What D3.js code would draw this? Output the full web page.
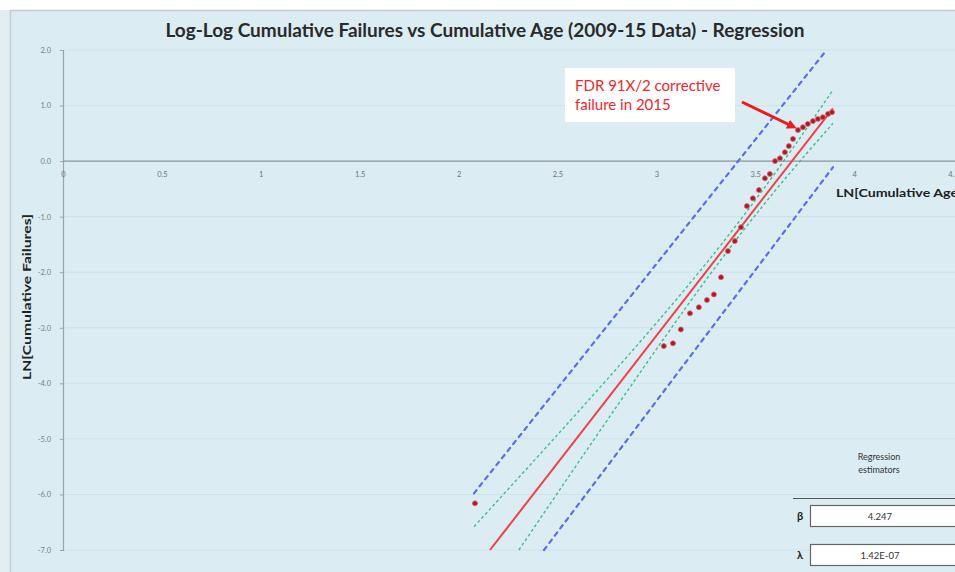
<!DOCTYPE html>
<html>
<head>
<meta charset="utf-8">
<script src="https://cdn.jsdelivr.net/npm/d3@7"></script>
<style>
  html, body { margin: 0; padding: 0; background: #ffffff; }
  svg { display: block; }
</style>
</head>
<body>
<svg id="chart" width="955" height="572"></svg>
<script>
// LN of cumulative age and LN of cumulative failures (observations)
const lnAge = [2.083, 3.038, 3.084, 3.124, 3.170, 3.215, 3.256, 3.291, 3.327, 3.362,
               3.397, 3.428, 3.458, 3.488, 3.519, 3.549, 3.574, 3.600, 3.625, 3.650,
               3.670, 3.691, 3.716, 3.741, 3.766, 3.792, 3.817, 3.842, 3.868, 3.888];
const lnFail = [-6.16, -3.33, -3.28, -3.03, -2.74, -2.63, -2.50, -2.40, -2.09, -1.62,
                -1.44, -1.19, -0.81, -0.67, -0.52, -0.31, -0.23, 0.00, 0.05, 0.16,
                0.27, 0.40, 0.56, 0.61, 0.67, 0.72, 0.76, 0.79, 0.85, 0.88];

// Fitted line and its bands, as [lnAge, lnFail] points
const fitLine   = [[2.159, -7.00], [3.893, 0.95]];
const confUpper = [[2.078, -6.58], [3.195, -2.09], [3.893, 1.28]];
const confLower = [[2.305, -7.00], [3.261, -2.09], [3.893, 0.68]];
const predUpper = [[2.078, -5.98], [3.852, 1.96]];
const predLower = [[2.432, -7.00], [3.893, -0.11]];

// Axis ticks
const xTicks = [0, 0.5, 1, 1.5, 2, 2.5, 3, 3.5, 4, 4.5];
const xTickLabels = ["0", "0.5", "1", "1.5", "2", "2.5", "3", "3.5", "4", "4.5"];
const yTicks = [2, 1, 0, -1, -2, -3, -4, -5, -6, -7];
const yTickLabels = ["2.0", "1.0", "0.0", "-1.0", "-2.0", "-3.0", "-4.0", "-5.0", "-6.0", "-7.0"];

// Regression estimators
const estimatorNames = ["β", "λ"];
const estimatorValues = ["4.247", "1.42E-07"];

// Highlighted observation
const calloutLines = ["FDR 91X/2 corrective", "failure in 2015"];
const calloutPoint = [3.716, 0.56];

const svg = d3.select("#chart");
const W = 955, H = 572;

// Chart area background
svg.append("rect").attr("x", 0).attr("y", 10).attr("width", 10).attr("height", H)
  .attr("fill", "#e3eef2");
svg.append("rect").attr("x", 10.5).attr("y", 10.5).attr("width", W).attr("height", H)
  .attr("fill", "#dbedf3").attr("stroke", "#c4cdd1").attr("stroke-width", 1.5);

const x = d3.scaleLinear().domain([0, 4.5]).range([63, 953]);
const y = d3.scaleLinear().domain([-7, 2]).range([550, 50]);

// Horizontal gridlines
svg.append("g").selectAll("line").data(yTicks).join("line")
  .attr("x1", x(0)).attr("x2", W)
  .attr("y1", d => y(d)).attr("y2", d => y(d))
  .attr("stroke", "#cde2ea").attr("stroke-width", 1);

// Y axis
const yAxis = d3.axisLeft(y).tickValues(yTicks)
  .tickFormat((d, i) => yTickLabels[i]).tickSize(3).tickPadding(9);
const gy = svg.append("g").attr("transform", `translate(${x(0)},0)`).call(yAxis);
gy.select(".domain").attr("stroke", "#9aa3a8").attr("stroke-width", 1.2);
gy.selectAll(".tick line").attr("stroke", "#9aa3a8");
gy.selectAll("text").attr("font-family", "Lato, sans-serif").attr("font-size", 7.5)
  .attr("fill", "#7a7f82");

// X axis crossing at zero
const xAxis = d3.axisBottom(x).tickValues(xTicks)
  .tickFormat((d, i) => xTickLabels[i]).tickSize(0).tickPadding(11);
const gx = svg.append("g").attr("transform", `translate(0,${y(0)})`).call(xAxis);
gx.select(".domain").remove();
gx.append("line").attr("x1", x(0)).attr("x2", W).attr("y1", 0).attr("y2", 0)
  .attr("stroke", "#8e979c").attr("stroke-width", 1.3);
gx.selectAll("text").attr("font-family", "Lato, sans-serif").attr("font-size", 7.5)
  .attr("fill", "#6e7376");

// Axis titles
svg.append("text").attr("x", 836).attr("y", 197)
  .attr("font-family", "Lato, sans-serif").attr("font-weight", "bold").attr("font-size", 11.5)
  .attr("textLength", 126).attr("lengthAdjust", "spacingAndGlyphs")
  .attr("fill", "#222").text("LN[Cumulative Age]");
svg.append("text").attr("transform", "translate(31,297) rotate(-90)")
  .attr("text-anchor", "middle")
  .attr("font-family", "Lato, sans-serif").attr("font-weight", "bold").attr("font-size", 11.5)
  .attr("textLength", 166).attr("lengthAdjust", "spacingAndGlyphs")
  .attr("fill", "#222").text("LN[Cumulative Failures]");

// Title
svg.append("text").attr("x", 485).attr("y", 37).attr("text-anchor", "middle")
  .attr("font-family", "Lato, sans-serif").attr("font-weight", "bold").attr("font-size", 19)
  .attr("fill", "#2a2a2a").text("Log-Log Cumulative Failures vs Cumulative Age (2009-15 Data) - Regression");

// Lines
const line = d3.line().x(d => x(d[0])).y(d => y(d[1]));
const band = d3.line().x(d => x(d[0])).y(d => y(d[1])).curve(d3.curveNatural);
const plot = svg.append("g");
[predUpper, predLower].forEach(pts => {
  plot.append("path").attr("d", line(pts)).attr("fill", "none")
    .attr("stroke", "#5a6ee6").attr("stroke-width", 2.2)
    .attr("stroke-dasharray", "4,5").attr("stroke-linecap", "round");
});
[confUpper, confLower].forEach(pts => {
  plot.append("path").attr("d", band(pts)).attr("fill", "none")
    .attr("stroke", "#3fbf86").attr("stroke-width", 1.4)
    .attr("stroke-dasharray", "3,2.5");
});
plot.append("path").attr("d", line(fitLine)).attr("fill", "none")
  .attr("stroke", "#f0404a").attr("stroke-width", 2);

// Observations
plot.selectAll("circle").data(lnAge).join("circle")
  .attr("cx", d => x(d)).attr("cy", (d, i) => y(lnFail[i])).attr("r", 2.5)
  .attr("fill", "#a81c26").attr("stroke", "#e06070").attr("stroke-width", 0.8);

// Callout
svg.append("rect").attr("x", 565).attr("y", 68).attr("width", 170).attr("height", 54)
  .attr("fill", "#ffffff");
svg.append("text").attr("x", 575).attr("y", 91)
  .attr("font-family", "Lato, sans-serif").attr("font-size", 15).attr("fill", "#f02828")
  .selectAll("tspan").data(calloutLines).join("tspan")
  .attr("x", 575).attr("dy", (d, i) => i === 0 ? 0 : 19).text(d => d);

const defs = svg.append("defs");
defs.append("marker").attr("id", "arrow").attr("viewBox", "0 0 10 10")
  .attr("refX", 7).attr("refY", 5).attr("markerWidth", 3.2).attr("markerHeight", 3.2)
  .attr("orient", "auto")
  .append("path").attr("d", "M0,0 L10,5 L0,10 Z").attr("fill", "#f01818");
svg.append("line").attr("x1", 742).attr("y1", 102)
  .attr("x2", x(calloutPoint[0]) - 4).attr("y2", y(calloutPoint[1]) - 3)
  .attr("stroke", "#f01818").attr("stroke-width", 3).attr("marker-end", "url(#arrow)");

// Regression estimators panel
const est = svg.append("g").attr("font-family", "Lato, sans-serif");
est.append("text").attr("x", 879).attr("y", 460).attr("text-anchor", "middle")
  .attr("font-size", 9).attr("fill", "#333").text("Regression");
est.append("text").attr("x", 879).attr("y", 473).attr("text-anchor", "middle")
  .attr("font-size", 9).attr("fill", "#333").text("estimators");
est.append("line").attr("x1", 793).attr("x2", W).attr("y1", 498.5).attr("y2", 498.5)
  .attr("stroke", "#555").attr("stroke-width", 1.2);
estimatorNames.forEach((name, i) => {
  const top = 505 + i * 39;
  est.append("rect").attr("x", 810.5).attr("y", top + 0.5).attr("width", 150).attr("height", 21)
    .attr("fill", "#ffffff").attr("stroke", "#666").attr("stroke-width", 1.2);
  est.append("text").attr("x", 797).attr("y", top + 15).attr("font-size", 11)
    .attr("font-weight", "bold").attr("fill", "#222").text(name);
  est.append("text").attr("x", 880).attr("y", top + 14.5).attr("text-anchor", "middle")
    .attr("font-size", 9.5).attr("fill", "#333").text(estimatorValues[i]);
});
</script>
</body>
</html>
